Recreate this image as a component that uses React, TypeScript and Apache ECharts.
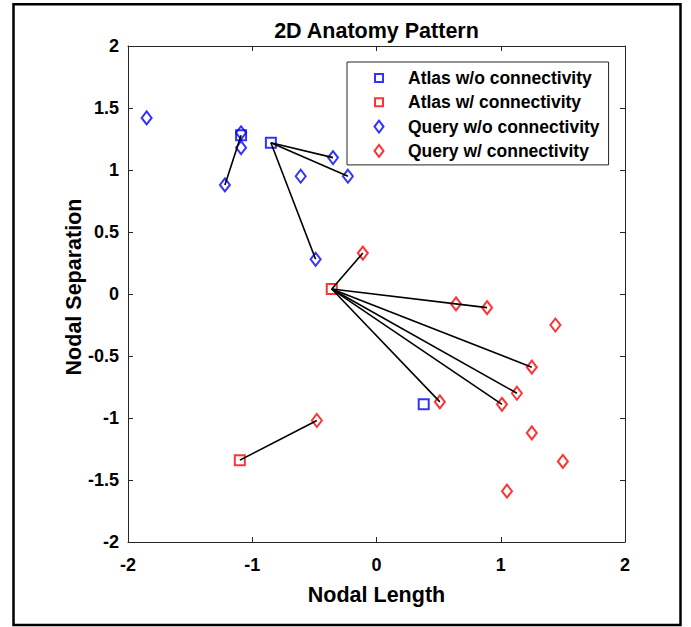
import React, { useEffect, useRef } from "react";
import * as echarts from "echarts";

const chartTitle = "2D Anatomy Pattern";
const xAxisName = "Nodal Length";
const yAxisName = "Nodal Separation";

const seriesNames = [
  "Atlas w/o connectivity",
  "Atlas w/ connectivity",
  "Query w/o connectivity",
  "Query w/ connectivity",
];

const atlasWithout: number[][] = [
  [-1.09, 1.28],
  [-0.85, 1.22],
  [0.38, -0.89],
];
const atlasWith: number[][] = [
  [-0.36, 0.04],
  [-1.1, -1.34],
];
const queryWithout: number[][] = [
  [-1.85, 1.42],
  [-1.09, 1.3],
  [-1.09, 1.18],
  [-1.22, 0.88],
  [-0.61, 0.95],
  [-0.35, 1.1],
  [-0.23, 0.95],
  [-0.49, 0.28],
];
const queryWith: number[][] = [
  [-0.11, 0.33],
  [0.64, -0.08],
  [0.89, -0.11],
  [1.44, -0.25],
  [1.25, -0.59],
  [1.13, -0.8],
  [1.01, -0.89],
  [0.51, -0.87],
  [-0.48, -1.02],
  [1.25, -1.12],
  [1.5, -1.35],
  [1.05, -1.59],
];

// [atlas set, atlas index, query set, query index]
const links: [string, number, string, number][] = [
  ["atlasWithout", 0, "queryWithout", 3],
  ["atlasWithout", 1, "queryWithout", 5],
  ["atlasWithout", 1, "queryWithout", 6],
  ["atlasWithout", 1, "queryWithout", 7],
  ["atlasWith", 0, "queryWith", 0],
  ["atlasWith", 0, "queryWith", 2],
  ["atlasWith", 0, "queryWith", 4],
  ["atlasWith", 0, "queryWith", 5],
  ["atlasWith", 0, "queryWith", 6],
  ["atlasWith", 0, "queryWith", 7],
  ["atlasWith", 1, "queryWith", 8],
];

const sets: Record<string, number[][]> = { atlasWithout, atlasWith, queryWithout, queryWith };

const BLUE = "#0000ff";
const RED = "#ff0000";
const AX = "#262626";
const FONT = "'Liberation Sans', Arial, sans-serif";

// legend icons: invisible move-to points widen the bounding box so the mark sits where wanted
const SQUARE_ICON = "path://M0 0M48 12M20 2h8v8h-8z";
const DIAMOND_ICON = "path://M0 0M48 12M24 0L28.5 6L24 12L19.5 6z";

export default function App() {
  const ref = useRef<HTMLDivElement>(null);
  useEffect(() => {
    document.body.style.margin = "0";
    const chart = echarts.init(ref.current!, undefined, { renderer: "svg" });

    const markerStyle = (c: string) => ({ color: "transparent", borderColor: c, borderWidth: 2 });

    const linkSeries = links.map(([a, ai, q, qi]) => ({
      type: "line",
      data: [sets[a][ai], sets[q][qi]],
      symbol: "none",
      silent: true,
      z: 5,
      lineStyle: { color: "#000", width: 1.6 },
    }));

    const axisCommon = {
      type: "value",
      axisLine: { show: true, onZero: false, lineStyle: { color: AX, width: 1 } },
      axisTick: { show: true, inside: true, length: 5, lineStyle: { color: AX } },
      splitLine: { show: false },
    };

    chart.setOption({
      animation: false,
      backgroundColor: "#fff",
      title: {
        text: chartTitle,
        left: 376.5,
        textAlign: "center",
        top: 19.5,
        padding: 0,
        textStyle: { fontFamily: FONT, fontSize: 21.5, fontWeight: "bold", color: "#000" },
      },
      grid: { left: 128, right: 66, top: 46, bottom: 85 },
      legend: {
        orient: "vertical",
        left: 347,
        top: 62,
        padding: [7, 9, 5, 7],
        itemWidth: 48,
        itemHeight: 12,
        itemGap: 6.3,
        symbolKeepAspect: true,
        borderColor: AX,
        borderWidth: 1,
        backgroundColor: "#fff",
        textStyle: { fontFamily: FONT, fontSize: 17.5, fontWeight: "bold", color: "#000" },
        data: [
          { name: seriesNames[0], icon: SQUARE_ICON, itemStyle: markerStyle(BLUE) },
          { name: seriesNames[1], icon: SQUARE_ICON, itemStyle: markerStyle(RED) },
          { name: seriesNames[2], icon: DIAMOND_ICON, itemStyle: markerStyle(BLUE) },
          { name: seriesNames[3], icon: DIAMOND_ICON, itemStyle: markerStyle(RED) },
        ],
      },
      xAxis: [
        {
          ...axisCommon,
          min: -2,
          max: 2,
          interval: 1,
          position: "bottom",
          name: xAxisName,
          nameLocation: "middle",
          nameGap: 41.5,
          nameMoveOverlap: false,
          nameTextStyle: { fontFamily: FONT, fontSize: 21.5, fontWeight: "bold", color: "#000" },
          axisLabel: { margin: 14, fontFamily: FONT, fontSize: 18, fontWeight: "bold", color: "#000" },
        },
        {
          ...axisCommon,
          min: -2,
          max: 2,
          interval: 1,
          position: "top",
          axisLabel: { show: false },
        },
      ],
      yAxis: [
        {
          ...axisCommon,
          min: -2,
          max: 2,
          interval: 0.5,
          position: "left",
          name: yAxisName,
          nameLocation: "middle",
          nameGap: 43,
          nameMoveOverlap: false,
          nameTextStyle: {
            fontFamily: FONT,
            fontSize: 21.5,
            fontWeight: "bold",
            color: "#000",
            padding: [0, 0, 0, 14],
          },
          axisLabel: { margin: 9, fontFamily: FONT, fontSize: 18, fontWeight: "bold", color: "#000" },
        },
        {
          ...axisCommon,
          min: -2,
          max: 2,
          interval: 0.5,
          position: "right",
          axisLabel: { show: false },
        },
      ],
      series: [
        { name: seriesNames[0], type: "scatter", data: atlasWithout, symbol: "rect", symbolSize: 10, itemStyle: markerStyle(BLUE), z: 3 },
        { name: seriesNames[1], type: "scatter", data: atlasWith, symbol: "rect", symbolSize: 10, itemStyle: markerStyle(RED), z: 3 },
        { name: seriesNames[2], type: "scatter", data: queryWithout, symbol: "diamond", symbolSize: [10, 13], itemStyle: markerStyle(BLUE), z: 3 },
        { name: seriesNames[3], type: "scatter", data: queryWith, symbol: "diamond", symbolSize: [10, 13], itemStyle: markerStyle(RED), z: 3 },
        ...linkSeries,
      ],
      graphic: [
        {
          type: "rect",
          shape: { x: 13.5, y: 4.3, width: 667, height: 620.7 },
          style: { fill: "none", stroke: "#000", lineWidth: 2.5 },
          silent: true,
          z: 100,
        },
      ],
    });
    return () => chart.dispose();
  }, []);
  return <div ref={ref} style={{ position: "fixed", left: 0, top: 0, width: 691, height: 627 }} />;
}
